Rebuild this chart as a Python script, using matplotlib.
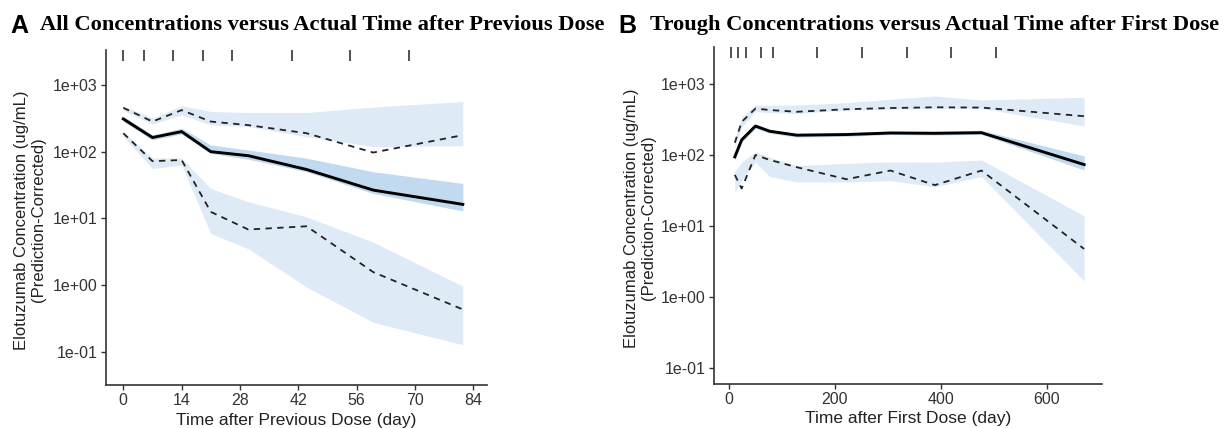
import numpy as np
import matplotlib
matplotlib.use("Agg")
import matplotlib.pyplot as plt
from matplotlib.ticker import FixedLocator, FuncFormatter
import matplotlib.transforms as mtransforms

# ---------------- data: panel A ----------------
time_a = [0, 7, 14, 21, 30, 44, 60, 81.5]
obs_med_a = [310, 163, 200, 100, 87, 54, 26.5, 16.2]
obs_p95_a = [455, 283, 420, 283, 250, 189, 97, 177]
obs_p05_a = [189, 72, 75, 12.5, 6.8, 7.6, 1.56, 0.43]
pi95_lo_a = [415, 259, 357, 252, 238, 168, 119, 123]
pi95_hi_a = [488, 318, 488, 401, 387, 387, 466, 566]
pimed_lo_a = [283, 150, 185, 94, 77, 50, 23.6, 12.9]
pimed_hi_a = [337, 178, 225, 126, 106, 80, 50, 33.4]
pi05_lo_a = [168, 56, 63, 5.9, 3.5, 0.93, 0.275, 0.127]
pi05_hi_a = [200, 80, 80, 28, 17.7, 10.5, 4.4, 0.96]
rug_a = [0, 5, 12, 19.2, 26.2, 40.5, 54.4, 68.5]
xticks_a = [0, 14, 28, 42, 56, 70, 84]

# ---------------- data: panel B ----------------
time_b = [11, 24, 50, 77, 128, 222, 305, 389, 477, 671]
obs_med_b = [95, 165, 258, 218, 192, 196, 206, 204, 208, 74]
obs_p95_b = [150, 295, 455, 434, 410, 445, 463, 474, 470, 355]
obs_p05_b = [53, 34, 101, 86, 68, 46, 61, 38, 61, 4.8]
pi95_lo_b = [128, 250, 411, 400, 389, 434, 445, 459, 459, 259]
pi95_hi_b = [170, 350, 511, 505, 511, 551, 615, 684, 601, 656]
pimed_lo_b = [85, 152, 240, 205, 180, 185, 196, 193, 197, 62]
pimed_hi_b = [106, 178, 275, 232, 203, 207, 220, 218, 225, 98]
pi05_lo_b = [30, 45, 80, 50, 42, 42, 44, 36, 50, 1.7]
pi05_hi_b = [60, 80, 112, 94, 72, 77, 81, 80, 86, 14]
rug_b = [3.8, 17.5, 31.4, 60.5, 83.7, 166.8, 251.8, 335.7, 418.8, 504.5]
xticks_b = [0, 200, 400, 600]

yticks = [0.1, 1, 10, 100, 1000]
ytick_labels = ["1e-01", "1e+00", "1e+01", "1e+02", "1e+03"]

# ---------------- style ----------------
W, H = 1231, 428
LIGHT = "#DEEBF7"
MEDBAND = "#C2DAEF"
SANS = ["Liberation Sans", "DejaVu Sans"]
SERIF = ["Liberation Serif", "DejaVu Serif"]
plt.rcParams["font.family"] = SANS

fig = plt.figure(figsize=(W / 100, H / 100), dpi=100)


def px_axes(left, right, top, bottom):
    return fig.add_axes([left / W, 1 - bottom / H, (right - left) / W, (bottom - top) / H])


def draw_panel(ax, t, med, p95, p05, b95lo, b95hi, bmlo, bmhi, b05lo, b05hi,
               rug, xticks, xlim, ylim, xlabel):
    ax.fill_between(t, b95lo, b95hi, color=LIGHT, lw=0, zorder=1)
    ax.fill_between(t, b05lo, b05hi, color=LIGHT, lw=0, zorder=1)
    ax.fill_between(t, bmlo, bmhi, color=MEDBAND, lw=0, zorder=1.5)
    ax.plot(t, p95, color="#222222", lw=1.3, ls=(0, (3.5, 3)), zorder=3)
    ax.plot(t, p05, color="#222222", lw=1.3, ls=(0, (3.5, 3)), zorder=3)
    ax.plot(t, med, color="black", lw=2.1, zorder=4, solid_joinstyle="round")
    trans = mtransforms.blended_transform_factory(ax.transData, ax.transAxes)
    ax.vlines(rug, 1 - 0.034, 1.0, transform=trans, color="#222222", lw=1.1,
              clip_on=False, zorder=5)
    ax.set_yscale("log")
    ax.set_xlim(*xlim)
    ax.set_ylim(*ylim)
    ax.yaxis.set_major_locator(FixedLocator(yticks))
    ax.yaxis.set_major_formatter(FuncFormatter(
        lambda v, p: ytick_labels[yticks.index(v)] if v in yticks else ""))
    ax.yaxis.set_minor_locator(FixedLocator([]))
    ax.set_xticks(xticks)
    ax.set_xticklabels([str(x) for x in xticks])
    for s in ["top", "right"]:
        ax.spines[s].set_visible(False)
    for s in ["left", "bottom"]:
        ax.spines[s].set_color("#333333")
        ax.spines[s].set_linewidth(1.2)
    ax.tick_params(axis="both", which="major", length=3.5, width=1.0,
                   color="#333333", labelsize=11.5, labelcolor="#333333", pad=2.5)
    ax.set_xlabel(xlabel, fontsize=12.5, color="#222222", labelpad=3)


axA = px_axes(106, 487, 50, 385)
draw_panel(axA, time_a, obs_med_a, obs_p95_a, obs_p05_a, pi95_lo_a, pi95_hi_a,
           pimed_lo_a, pimed_hi_a, pi05_lo_a, pi05_hi_a, rug_a, xticks_a,
           (-4.15, 87.3), (10 ** -1.5, 10 ** 3.525), "Time after Previous Dose (day)")

axB = px_axes(714, 1102, 47, 384)
draw_panel(axB, time_b, obs_med_b, obs_p95_b, obs_p05_b, pi95_lo_b, pi95_hi_b,
           pimed_lo_b, pimed_hi_b, pi05_lo_b, pi05_hi_b, rug_b, xticks_b,
           (-28.3, 704.8), (10 ** -1.221, 10 ** 3.525), "Time after First Dose (day)")

ylab = "Elotuzumab Concentration (ug/mL)\n(Prediction-Corrected)"
fig.text(30 / W, 1 - 220 / H, ylab, rotation=90, ha="center", va="center",
         multialignment="center", fontsize=12, color="#222222", linespacing=1.1)
fig.text(640 / W, 1 - 218 / H, ylab, rotation=90, ha="center", va="center",
         multialignment="center", fontsize=12, color="#222222", linespacing=1.1)

# titles
fig.text(10 / W, 1 - 26 / H, "A", fontsize=18, fontweight="bold", va="center", ha="left")
fig.text(40 / W, 1 - 25 / H, "All Concentrations versus Actual Time after Previous Dose",
         family=SERIF, fontsize=16.2, fontweight="bold", va="center", ha="left")
fig.text(618 / W, 1 - 26 / H, "B", fontsize=18, fontweight="bold", va="center", ha="left")
fig.text(650 / W, 1 - 25 / H, "Trough Concentrations versus Actual Time after First Dose",
         family=SERIF, fontsize=16.2, fontweight="bold", va="center", ha="left")

fig.savefig("out.png", dpi=100)
